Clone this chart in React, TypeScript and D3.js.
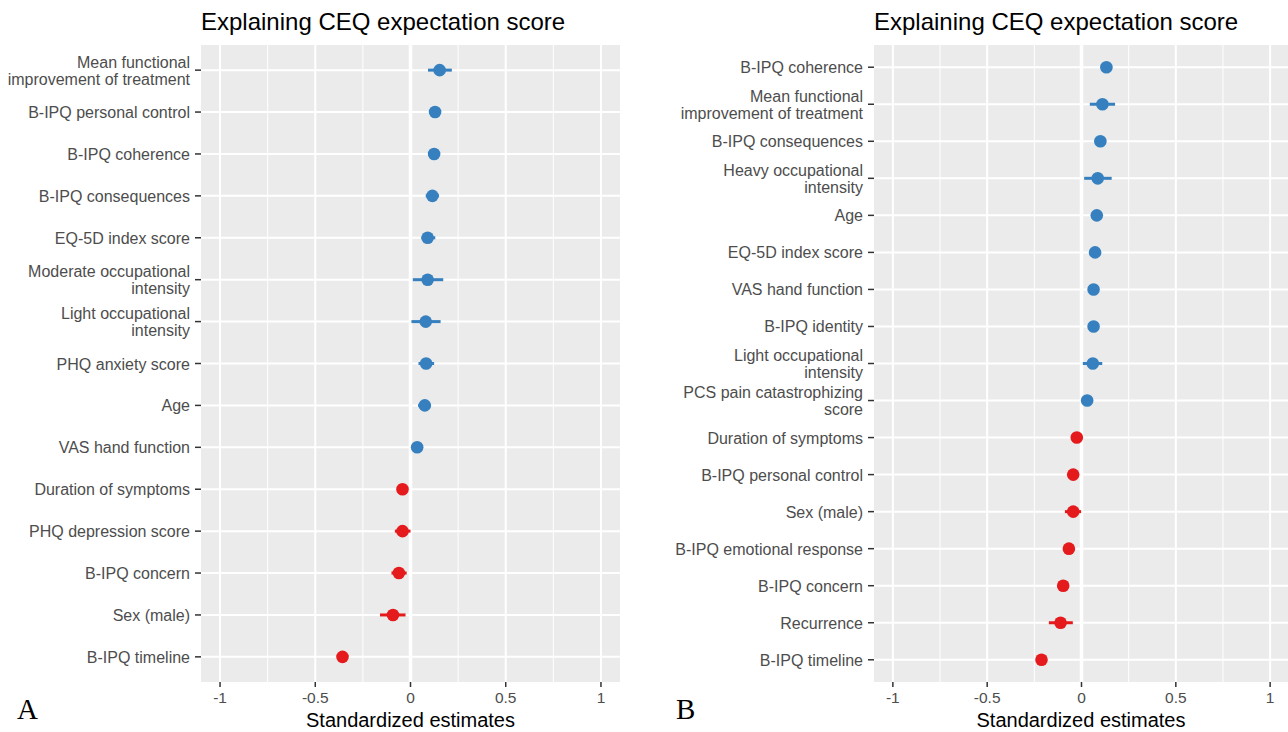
import * as d3 from "d3";

// panel A
const labelsA = [
  "Mean functional\nimprovement of treatment",
  "B-IPQ personal control",
  "B-IPQ coherence",
  "B-IPQ consequences",
  "EQ-5D index score",
  "Moderate occupational\nintensity",
  "Light occupational\nintensity",
  "PHQ anxiety score",
  "Age",
  "VAS hand function",
  "Duration of symptoms",
  "PHQ depression score",
  "B-IPQ concern",
  "Sex (male)",
  "B-IPQ timeline",
];
const estA = [0.153, 0.129, 0.124, 0.115, 0.09, 0.09, 0.08, 0.082, 0.075, 0.035, -0.042, -0.042, -0.061, -0.092, -0.357];
const lowA = [0.092, 0.11, 0.105, 0.08, 0.057, 0.012, 0.005, 0.042, 0.04, 0.02, -0.06, -0.082, -0.1, -0.16, -0.375];
const highA = [0.217, 0.148, 0.143, 0.15, 0.13, 0.172, 0.158, 0.124, 0.106, 0.05, -0.025, 0.0, -0.02, -0.026, -0.34];

// panel B
const labelsB = [
  "B-IPQ coherence",
  "Mean functional\nimprovement of treatment",
  "B-IPQ consequences",
  "Heavy occupational\nintensity",
  "Age",
  "EQ-5D index score",
  "VAS hand function",
  "B-IPQ identity",
  "Light occupational\nintensity",
  "PCS pain catastrophizing\nscore",
  "Duration of symptoms",
  "B-IPQ personal control",
  "Sex (male)",
  "B-IPQ emotional response",
  "B-IPQ concern",
  "Recurrence",
  "B-IPQ timeline",
];
const estB = [0.132, 0.111, 0.1, 0.086, 0.081, 0.072, 0.064, 0.064, 0.06, 0.03, -0.025, -0.044, -0.044, -0.067, -0.097, -0.111, -0.212];
const lowB = [0.118, 0.044, 0.086, 0.014, 0.068, 0.058, 0.05, 0.05, 0.007, 0.016, -0.04, -0.058, -0.088, -0.082, -0.112, -0.173, -0.228];
const highB = [0.146, 0.178, 0.114, 0.16, 0.094, 0.086, 0.078, 0.078, 0.11, 0.044, -0.01, -0.03, -0.002, -0.052, -0.082, -0.046, -0.196];

const xTicks = [-1, -0.5, 0, 0.5, 1];
const xMinor = [-0.75, -0.25, 0.25, 0.75];

const title = "Explaining CEQ expectation score";
const xTitle = "Standardized estimates";

const sans = "'Liberation Sans', Arial, Helvetica, sans-serif";
const blue = "#3780BF";
const red = "#E41A1C";

type PanelProps = {
  labels: string[];
  est: number[];
  low: number[];
  high: number[];
  left: number;
  right: number;
  top: number;
  bottom: number;
  tag: string;
  tagX: number;
};

const Panel = (props: PanelProps) => {
  const { labels, est, low, high, left, right, top, bottom, tag, tagX } = props;

  const x = d3.scaleLinear().domain([-1.1, 1.1]).range([left, right]);
  const y = d3.scalePoint<string>().domain(labels).range([top, bottom]).padding(0.6);

  const lineH = 17;

  return (
    <g>
      <text x={left} y={30} fontFamily={sans} fontSize={24} fill="#000">
        {title}
      </text>
      <rect x={left} y={top} width={right - left} height={bottom - top} fill="#EBEBEB" />
      {xMinor.map((t) => (
        <line key={"mn" + t} x1={x(t)} x2={x(t)} y1={top} y2={bottom} stroke="#fff" strokeWidth={1} />
      ))}
      {xTicks.map((t) => (
        <line key={"mj" + t} x1={x(t)} x2={x(t)} y1={top} y2={bottom} stroke="#fff" strokeWidth={2} />
      ))}
      {labels.map((l) => (
        <line key={"hg" + l} x1={left} x2={right} y1={y(l)} y2={y(l)} stroke="#fff" strokeWidth={2} />
      ))}
      <line x1={x(0)} x2={x(0)} y1={top} y2={bottom} stroke="#fff" strokeWidth={3.5} />
      {labels.map((l, i) => {
        const c = est[i] >= 0 ? blue : red;
        return (
          <g key={"pt" + l}>
            <line x1={x(low[i])} x2={x(high[i])} y1={y(l)} y2={y(l)} stroke={c} strokeWidth={3} />
            <circle cx={x(est[i])} cy={y(l)} r={6.3} fill={c} />
          </g>
        );
      })}
      {/* y axis */}
      {labels.map((l) => {
        const lines = l.split("\n");
        const yy = y(l) as number;
        return (
          <g key={"yl" + l}>
            <line x1={left - 6} x2={left} y1={yy} y2={yy} stroke="#333" strokeWidth={1.5} />
            <text
              textAnchor="end"
              fontFamily={sans}
              fontSize={16}
              fill="#4D4D4D"
              dominantBaseline="central"
            >
              {lines.map((s, k) => (
                <tspan key={k} x={left - 11} y={yy + (k - (lines.length - 1) / 2) * lineH}>
                  {s}
                </tspan>
              ))}
            </text>
          </g>
        );
      })}
      {/* x axis */}
      {xTicks.map((t) => (
        <g key={"xt" + t}>
          <line x1={x(t)} x2={x(t)} y1={bottom} y2={bottom + 5} stroke="#333" strokeWidth={1.5} />
          <text x={x(t)} y={703} textAnchor="middle" fontFamily={sans} fontSize={15.5} fill="#4D4D4D">
            {t}
          </text>
        </g>
      ))}
      <text x={(left + Math.min(right, 1288)) / 2} y={727} textAnchor="middle" fontFamily={sans} fontSize={20} fill="#000">
        {xTitle}
      </text>
      <text x={tagX} y={719} fontFamily="'Liberation Serif', 'Times New Roman', serif" fontSize={29} fill="#000">
        {tag}
      </text>
    </g>
  );
};

export default function App() {
  return (
    <svg
      width={1288}
      height={732}
      style={{ position: "absolute", left: 0, top: 0, background: "#fff" }}
    >
      <rect width={1288} height={732} fill="#fff" />
      <Panel labels={labelsA} est={estA} low={lowA} high={highA} left={201} right={620} top={45} bottom={682} tag="A" tagX={17} />
      <Panel labels={labelsB} est={estB} low={lowB} high={highB} left={874} right={1289} top={45} bottom={682} tag="B" tagX={676} />
    </svg>
  );
}
